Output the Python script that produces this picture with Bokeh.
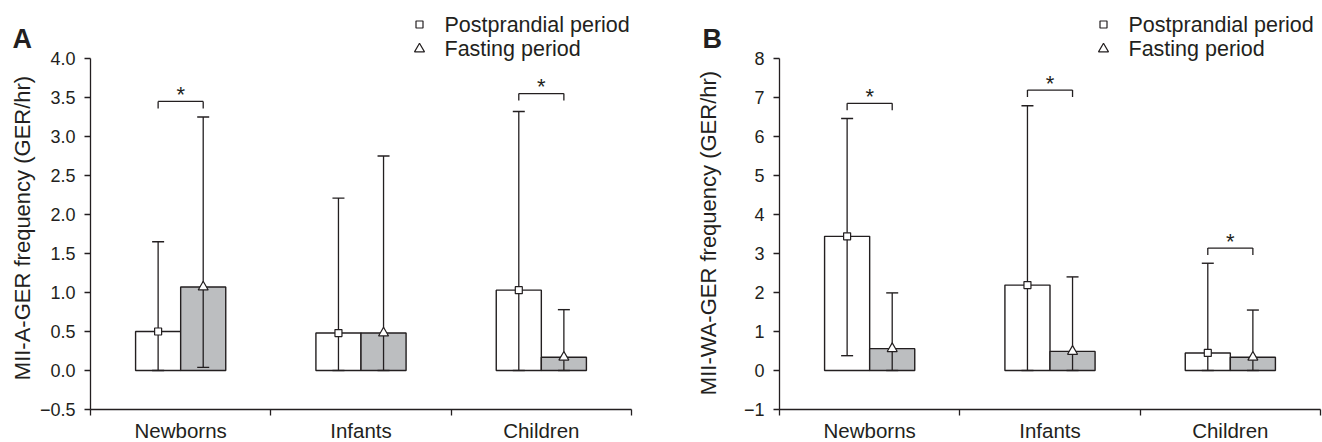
import math
from bokeh.plotting import figure
from bokeh.layouts import row
from bokeh.models import FixedTicker, Label
from bokeh.core.properties import value
from bokeh.embed import file_html
from bokeh.resources import INLINE

# ---------------- data ----------------
categories = ["Newborns", "Infants", "Children"]
legend_labels = ["Postprandial period", "Fasting period"]

# Panel A : MII-A-GER frequency (GER/hr)
a_post = [0.50, 0.48, 1.03]
a_post_hi = [1.65, 2.21, 3.32]
a_post_lo = [0.00, 0.00, 0.00]
a_fast = [1.07, 0.48, 0.17]
a_fast_hi = [3.25, 2.75, 0.78]
a_fast_lo = [0.04, 0.00, 0.00]
a_sig = [3.45, None, 3.55]
a_yticks = [-0.5, 0.0, 0.5, 1.0, 1.5, 2.0, 2.5, 3.0, 3.5, 4.0]
a_ytick_labels = ["\u22120.5", "0.0", "0.5", "1.0", "1.5", "2.0", "2.5", "3.0", "3.5", "4.0"]

# Panel B : MII-WA-GER frequency (GER/hr)
b_post = [3.44, 2.19, 0.45]
b_post_hi = [6.46, 6.79, 2.75]
b_post_lo = [0.38, 0.00, 0.00]
b_fast = [0.56, 0.49, 0.34]
b_fast_hi = [1.99, 2.40, 1.55]
b_fast_lo = [0.00, 0.00, 0.00]
b_sig = [6.85, 7.19, 3.14]
b_yticks = [-1, 0, 1, 2, 3, 4, 5, 6, 7, 8]
b_ytick_labels = ["\u22121", "0", "1", "2", "3", "4", "5", "6", "7", "8"]

# ---------------- style / layout ----------------
INK = "#231f20"
GREY = "#bcbec0"
FONT = "Liberation Sans"
AXIS_W = 541        # pixel length of the x axis line (3 categories)
AXIS_H = 351        # pixel length of the y axis line
TOP_PAD = 58        # pixels above the top tick
BOTTOM_PAD = 33     # pixels below the x axis line
FRAME_H = TOP_PAD + AXIS_H + BOTTOM_PAD
BAR_W = 0.25


def make_panel(letter, ylabel, post, post_hi, post_lo, fast, fast_hi, fast_lo,
               sig, yticks, ytick_labels, frame_w, axis_left, label_dx, label_cy,
               legend_dx):
    y0, y1 = yticks[0], yticks[-1]
    ppu_y = AXIS_H / (y1 - y0)
    ppu_x = AXIS_W / 3.0
    x_start = 0.5 - axis_left / ppu_x
    x_end = x_start + frame_w / ppu_x
    y_start = y0 - BOTTOM_PAD / ppu_y
    y_end = y1 + TOP_PAD / ppu_y

    p = figure(frame_width=frame_w, frame_height=FRAME_H,
               x_range=(x_start, x_end), y_range=(y_start, y_end),
               output_backend="svg", toolbar_location=None, title=None,
               min_border_left=0, min_border_right=0,
               min_border_top=0, min_border_bottom=0)
    p.grid.visible = False
    p.outline_line_color = None
    p.background_fill_color = "white"
    p.border_fill_color = "white"

    centers = [i + 1 for i in range(len(categories))]
    post_x = [c - BAR_W / 2 for c in centers]
    fast_x = [c + BAR_W / 2 for c in centers]

    # bars
    p.vbar(x=post_x, top=post, bottom=0, width=BAR_W, fill_color="white",
           line_color=INK, line_width=1.4)
    p.vbar(x=fast_x, top=fast, bottom=0, width=BAR_W, fill_color=GREY,
           line_color=INK, line_width=1.4)

    # error bars
    ex = post_x + fast_x
    elo = post_lo + fast_lo
    ehi = post_hi + fast_hi
    p.segment(x0=ex, y0=elo, x1=ex, y1=ehi, line_color=INK, line_width=1.3)
    p.scatter(x=ex + ex, y=ehi + elo, marker="dash", size=12,
              line_color=INK, line_width=1.4)

    # mean markers
    p.scatter(x=post_x, y=post, marker="square", size=7, fill_color="white",
              line_color=INK, line_width=1.2)
    p.scatter(x=fast_x, y=fast, marker="triangle", size=10, fill_color="white",
              line_color=INK, line_width=1.2)

    # significance brackets
    drop = 7 / ppu_y
    bx0, bx1, by, ax, ay = [], [], [], [], []
    lx, ly0, ly1 = [], [], []
    for i, s in enumerate(sig):
        if s is None:
            continue
        bx0.append(post_x[i]); bx1.append(fast_x[i]); by.append(s)
        lx += [post_x[i], fast_x[i]]
        ly0 += [s, s]; ly1 += [s - drop, s - drop]
        ax.append(centers[i]); ay.append(s + 7 / ppu_y)
    p.segment(x0=bx0, y0=by, x1=bx1, y1=by, line_color=INK, line_width=1.3)
    p.segment(x0=lx, y0=ly0, x1=lx, y1=ly1, line_color=INK, line_width=1.3)
    p.text(x=ax, y=ay, text=["*"] * len(ax), text_align="center",
           text_baseline="alphabetic", text_font=value(FONT),
           text_font_size=value("22px"), text_color=INK)

    # legend
    leg_x = 0.5 + legend_dx / ppu_x
    leg_y = [y1 + 34 / ppu_y, y1 + 9.5 / ppu_y]
    p.scatter(x=[leg_x], y=[leg_y[0]], marker="square", size=7,
              fill_color="white", line_color=INK, line_width=1.2)
    p.scatter(x=[leg_x], y=[leg_y[1]], marker="triangle", size=10,
              fill_color="white", line_color=INK, line_width=1.2)
    for lab, yy in zip(legend_labels, leg_y):
        p.add_layout(Label(x=leg_x, y=yy, x_offset=25, text=lab,
                           text_font=FONT, text_font_size="21.5px",
                           text_baseline="middle", text_align="left",
                           text_color=INK))

    # panel letter
    p.add_layout(Label(x=0.5 - (axis_left - 12) / ppu_x, y=y1 + 20 / ppu_y,
                       text=letter, text_font=FONT, text_font_size="27px",
                       text_font_style="bold", text_baseline="alphabetic",
                       text_align="left", text_color=INK))

    # y axis label (rotated)
    p.add_layout(Label(x=0.5 - label_dx / ppu_x, y=y0 + label_cy / ppu_y,
                       text=ylabel, angle=math.pi / 2, text_font=FONT,
                       text_font_size="22px", text_baseline="middle",
                       text_align="center", text_color=INK))

    # y axis, drawn at the start of the categories
    yax = p.yaxis[0]
    yax.fixed_location = 0.5
    yax.ticker = FixedTicker(ticks=yticks)
    yax.bounds = (y0, y1)
    yax.major_label_overrides = {float(t): l for t, l in zip(yticks, ytick_labels)}
    yax.major_tick_out = 6
    yax.major_tick_in = 0
    yax.minor_tick_out = 0
    yax.minor_tick_in = 0
    yax.major_label_standoff = 9
    yax.major_label_text_font = FONT
    yax.major_label_text_font_size = "18px"
    yax.major_label_text_color = INK
    yax.axis_line_color = INK
    yax.axis_line_width = 1.3
    yax.major_tick_line_color = INK
    yax.major_tick_line_width = 1.3

    # x axis with category names and boundary ticks, drawn at the lowest tick
    xax = p.xaxis[0]
    xax.fixed_location = y0
    xax.bounds = (0.5, 3.5)
    xax.ticker = FixedTicker(ticks=centers,
                             minor_ticks=[c - 0.5 for c in centers] + [centers[-1] + 0.5])
    xax.major_label_overrides = {c: name for c, name in zip(centers, categories)}
    xax.major_tick_out = 0
    xax.major_tick_in = 0
    xax.minor_tick_out = 6
    xax.minor_tick_in = 0
    xax.major_label_standoff = 3
    xax.major_label_text_font = FONT
    xax.major_label_text_font_size = "20.5px"
    xax.major_label_text_color = INK
    xax.axis_line_color = INK
    xax.axis_line_width = 1.3
    xax.minor_tick_line_color = INK
    xax.minor_tick_line_width = 1.3
    return p


pa = make_panel("A", "MII-A-GER frequency (GER/hr)", a_post, a_post_hi, a_post_lo,
                a_fast, a_fast_hi, a_fast_lo, a_sig, a_yticks, a_ytick_labels,
                frame_w=690, axis_left=90, label_dx=68, label_cy=181.5,
                legend_dx=329)
pb = make_panel("B", "MII-WA-GER frequency (GER/hr)", b_post, b_post_hi, b_post_lo,
                b_fast, b_fast_hi, b_fast_lo, b_sig, b_yticks, b_ytick_labels,
                frame_w=632, axis_left=89, label_dx=71, label_cy=176.5,
                legend_dx=324)

layout = row(pa, pb, spacing=0)
open("out.html", "w").write(file_html(layout, INLINE))
